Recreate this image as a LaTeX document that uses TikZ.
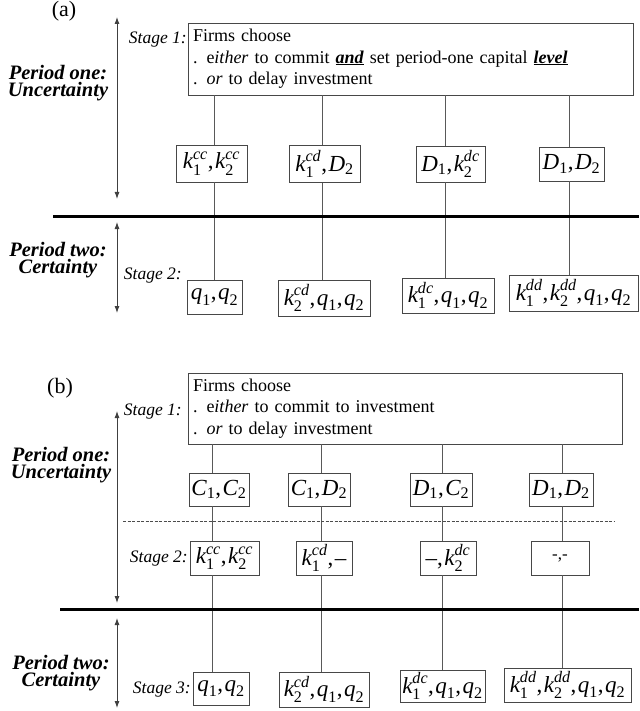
\documentclass[tikz,border=0pt]{standalone}
\usepackage{fontspec}
\setmainfont{Liberation Serif}
\usepackage{amsmath}
\usetikzlibrary{arrows.meta}
\newcommand{\myvss}[3]{\ensuremath{\text{\itshape #1}_{\text{\upshape #2}}^{\text{\itshape #3}}}}
\newcommand{\myvsb}[2]{\ensuremath{\text{\itshape #1}_{\text{\upshape #2}}}}
\newcommand{\mycmm}{,\kern1.5pt}
\newcommand{\myuln}[1]{\setbox0\hbox{#1}\rlap{\rule[-2.2pt]{\wd0}{1.3pt}}\box0\relax}
\begin{document}
\begin{tikzpicture}[x=1pt,y=-1pt,
  bx/.style={draw=black!72, line width=0.9pt, inner sep=0pt, font=\fontsize{23}{27}\selectfont},
  conn/.style={draw=black!65, line width=0.9pt},
  arr/.style={draw=black!75, line width=0.9pt, {Latex[length=7pt,width=5pt]}-{Latex[length=7pt,width=5pt]}},
  thk/.style={draw=black, line width=3pt},
  dsh/.style={draw=black!70, line width=0.9pt, dash pattern=on 3pt off 1.5pt},
  stg/.style={font=\fontsize{17.5}{21}\selectfont\itshape, inner sep=0pt},
  per/.style={font=\fontsize{20.5}{17}\selectfont\bfseries\itshape, inner sep=0pt, align=center},
  lab/.style={font=\fontsize{22}{24}\selectfont, inner sep=0pt},
  sbox/.style={draw=black!72, line width=0.9pt, inner xsep=5pt, inner ysep=0pt, align=left, font=\fontsize{18}{21.5}\selectfont}
]
\useasboundingbox (0,0) rectangle (639,711);

% ---------------- (a) ----------------
\node[lab, anchor=base] (labA) at (64,17) {(a)};
\node[sbox, minimum width=445pt, minimum height=72pt, text width=435pt] (sA) at (410.5,59)
  {Firms choose\\. e\textit{ither} to commit \myuln{\textbf{\textit{and}}} set period-one capital \myuln{\textbf{\textit{level}}}\\. \textit{or} to delay investment};
\node[stg, anchor=base east] (st1A) at (187,44) {Stage 1:};
\node[stg, anchor=base east] (st2A) at (182,279) {Stage 2:};
\node[per, anchor=base] (p1A) at (58,96.5) {Period one:\\Uncertainty};
\node[per, anchor=base] (p2A) at (58,273.5) {Period two:\\Certainty};

\node[bx, minimum width=71pt, minimum height=37pt] (a1) at (211.5,163.5) {\myvss{k}{1}{cc}\mycmm\myvss{k}{2}{cc}};
\node[bx, minimum width=71pt, minimum height=37pt] (a2) at (324.5,164) {\myvss{k}{1}{cd}\mycmm\myvsb{D}{2}};
\node[bx, minimum width=69pt, minimum height=36pt] (a3) at (450.5,164) {\myvsb{D}{1}\mycmm\myvss{k}{2}{dc}};
\node[bx, minimum width=65pt, minimum height=34pt] (a4) at (571.5,164) {\myvsb{D}{1}\mycmm\myvsb{D}{2}};

\node[bx, minimum width=55pt, minimum height=34pt] (b1) at (214.5,297) {\myvsb{q}{1}\mycmm\myvsb{q}{2}};
\node[bx, minimum width=92pt, minimum height=36pt] (b2) at (324,298) {\myvss{k}{2}{cd}\mycmm\myvsb{q}{1}\mycmm\myvsb{q}{2}};
\node[bx, minimum width=92pt, minimum height=35pt] (b3) at (448,295.5) {\myvss{k}{1}{dc}\mycmm\myvsb{q}{1}\mycmm\myvsb{q}{2}};
\node[bx, minimum width=129pt, minimum height=36pt] (b4) at (573.5,293) {\myvss{k}{1}{dd}\mycmm\myvss{k}{2}{dd}\mycmm\myvsb{q}{1}\mycmm\myvsb{q}{2}};

\coordinate (xa1) at (214,0);
\coordinate (xa2) at (322,0);
\coordinate (xa3) at (445,0);
\coordinate (xa4) at (569,0);
\foreach \i in {1,...,4}{
  \draw[conn] (sA.south -| xa\i) -- (a\i.north -| xa\i);
  \draw[conn] (a\i.south -| xa\i) -- (b\i.north -| xa\i);
}
\coordinate (tA0) at (53,217);
\coordinate (tA1) at (639,217);
\draw[thk] (tA0) -- (tA1);
\coordinate (ar1t) at (117,17);
\coordinate (ar1b) at (117,199);
\draw[arr] (ar1b) -- (ar1t);
\coordinate (ar2t) at (117,222);
\coordinate (ar2b) at (117,313);
\draw[arr] (ar2t) -- (ar2b);

% ---------------- (b) ----------------
\node[lab, anchor=base] (labB) at (60,393) {(b)};
\node[sbox, minimum width=434pt, minimum height=71pt, text width=424pt] (sB) at (405,408.5)
  {Firms choose\\. e\textit{ither} to commit to investment\\. \textit{or} to delay investment};
\node[stg, anchor=base east] (st1B) at (182,415) {Stage 1:};
\node[stg, anchor=base east] (st2B) at (188,562) {Stage 2:};
\node[stg, anchor=base east] (st3B) at (191,693) {Stage 3:};
\node[per, anchor=base] (p1B) at (61,478) {Period one:\\Uncertainty};
\node[per, anchor=base] (p2B) at (61,686) {Period two:\\Certainty};

\node[bx, minimum width=60pt, minimum height=33pt] (c1) at (219,489.5) {\myvsb{C}{1}\mycmm\myvsb{C}{2}};
\node[bx, minimum width=62pt, minimum height=33pt] (c2) at (319,489.5) {\myvsb{C}{1}\mycmm\myvsb{D}{2}};
\node[bx, minimum width=62pt, minimum height=33pt] (c3) at (441,489.5) {\myvsb{D}{1}\mycmm\myvsb{C}{2}};
\node[bx, minimum width=64pt, minimum height=33pt] (c4) at (561,489.5) {\myvsb{D}{1}\mycmm\myvsb{D}{2}};

\node[bx, minimum width=69pt, minimum height=34pt] (d1) at (224.5,558) {\myvss{k}{1}{cc}\mycmm\myvss{k}{2}{cc}};
\node[bx, minimum width=56pt, minimum height=34pt] (d2) at (324,558) {\myvss{k}{1}{cd}\mycmm\textendash};
\node[bx, minimum width=56pt, minimum height=34pt] (d3) at (448,558) {\textendash\mycmm\myvss{k}{2}{dc}};
\node[bx, minimum width=58pt, minimum height=34pt, font=\fontsize{17}{20}\selectfont] (d4) at (560,558) {-,-};

\node[bx, minimum width=56pt, minimum height=33pt] (e1) at (221,688.5) {\myvsb{q}{1}\mycmm\myvsb{q}{2}};
\node[bx, minimum width=90pt, minimum height=35pt] (e2) at (324,689.5) {\myvss{k}{2}{cd}\mycmm\myvsb{q}{1}\mycmm\myvsb{q}{2}};
\node[bx, minimum width=85pt, minimum height=32pt] (e3) at (442.5,686) {\myvss{k}{1}{dc}\mycmm\myvsb{q}{1}\mycmm\myvsb{q}{2}};
\node[bx, minimum width=127pt, minimum height=34pt] (e4) at (567.5,685) {\myvss{k}{1}{dd}\mycmm\myvss{k}{2}{dd}\mycmm\myvsb{q}{1}\mycmm\myvsb{q}{2}};

\coordinate (xb1) at (212,0);
\coordinate (xb2) at (321,0);
\coordinate (xb3) at (442,0);
\coordinate (xb4) at (562,0);
\foreach \i in {1,...,4}{
  \draw[conn] (sB.south -| xb\i) -- (c\i.north -| xb\i);
  \draw[conn] (c\i.south -| xb\i) -- (d\i.north -| xb\i);
  \draw[conn] (d\i.south -| xb\i) -- (e\i.north -| xb\i);
}
\coordinate (dB0) at (123,521);
\coordinate (dB1) at (615,521);
\draw[dsh] (dB0) -- (dB1);
\coordinate (tB0) at (60,609);
\coordinate (tB1) at (639,609);
\draw[thk] (tB0) -- (tB1);
\coordinate (br1t) at (117,411);
\coordinate (br1b) at (117,603);
\draw[arr] (br1b) -- (br1t);
\coordinate (br2t) at (117,618);
\coordinate (br2b) at (117,708);
\draw[arr] (br2t) -- (br2b);
\end{tikzpicture}
\end{document}
